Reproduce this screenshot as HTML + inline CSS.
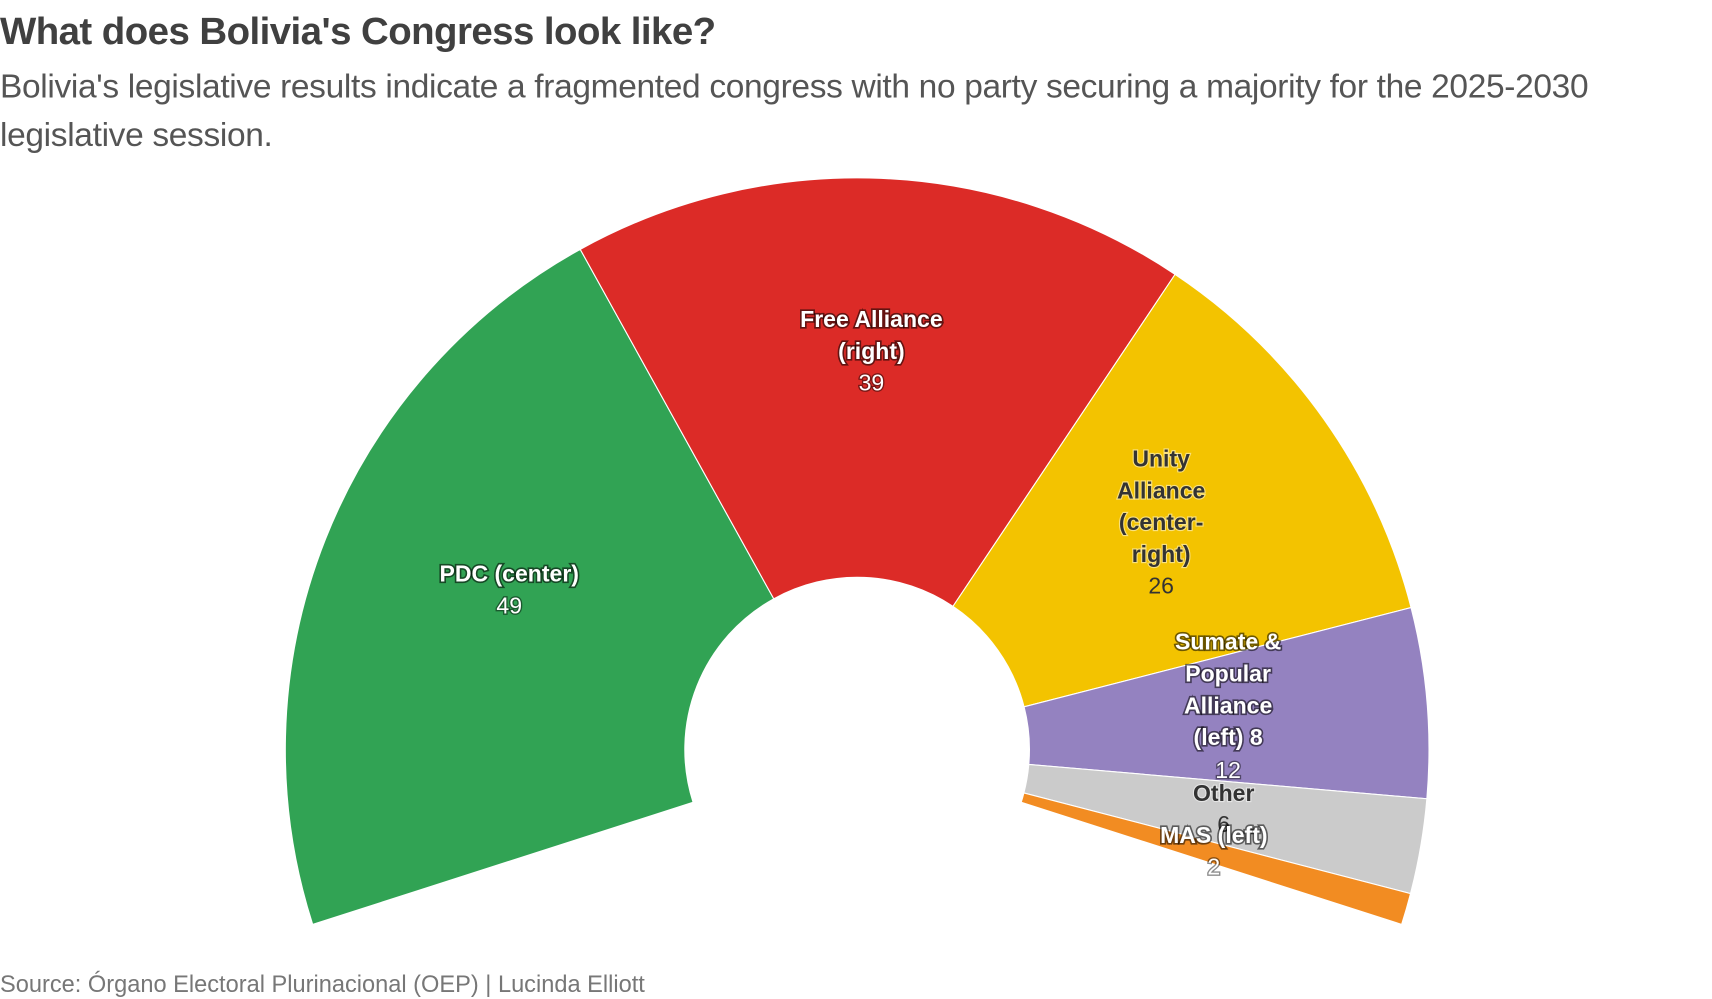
<!DOCTYPE html>
<html><head><meta charset="utf-8"><style>
body{margin:0;background:#fff;width:1712px;height:996px;overflow:hidden;font-family:"Liberation Sans",sans-serif;}
#w{position:absolute;left:0;top:0;width:1560px;height:908px;transform:scale(1.0975);transform-origin:0 0}
.t{position:absolute;left:0;top:9px;font-size:35px;font-weight:bold;color:#404040;letter-spacing:-0.5px}
.s{position:absolute;left:0;top:57px;font-size:30.5px;color:#555;line-height:44px;width:1500px;letter-spacing:-0.3px}
.src{position:absolute;left:0;top:885px;font-size:21.5px;color:#777}
svg{position:absolute;left:0;top:0}
.w{fill:#fff;font-weight:bold;font-size:21px;paint-order:stroke;stroke:rgba(0,0,0,0.55);stroke-width:3px}
.wn{fill:#fff;font-size:21px;paint-order:stroke;stroke:rgba(0,0,0,0.45);stroke-width:2.5px}
.d{fill:#333;font-weight:bold;font-size:21px;paint-order:stroke;stroke:rgba(255,255,255,0.5);stroke-width:2px}
.dn{fill:#333;font-size:21px}
</style></head><body>
<div id="w">
<div class="t">What does Bolivia's Congress look like?</div>
<div class="s">Bolivia's legislative results indicate a fragmented congress with no party securing a majority for the 2025-2030 legislative session.</div>
<svg id="c" width="1560" height="908" xmlns="http://www.w3.org/2000/svg"></svg>
<div class="src">Source: Órgano Electoral Plurinacional (OEP) | Lucinda Elliott</div>
</div>
<script>
var cx=781,cy=683,R=521,r=157;
var segs=[[49,"#31a354"],[39,"#dc2b27"],[26,"#f3c300"],[12,"#9482c0"],[6,"#cbcbcb"],[2,"#f28c22"]];
var start=197.8,per=215.6/134,a=start,s="";
function p(rad,ang){var t=ang*Math.PI/180;return (cx+rad*Math.cos(t)).toFixed(1)+","+(cy-rad*Math.sin(t)).toFixed(1);}
segs.forEach(function(g){var b=a-g[0]*per;var lg=(a-b)>180?1:0;
s+='<path d="M'+p(R,a)+' A'+R+','+R+' 0 '+lg+' 1 '+p(R,b)+' L'+p(r,b)+' A'+r+','+r+' 0 '+lg+' 0 '+p(r,a)+' Z" fill="'+g[1]+'" stroke="#fff" stroke-width="1"/>';a=b;});
function tx(x,y,c,txt){return '<text x="'+x+'" y="'+y+'" class="'+c+'" text-anchor="middle">'+txt+'</text>';}
s+=tx(464,530,"w","PDC (center)")+tx(464,559,"wn","49");
s+=tx(794,298,"w","Free Alliance")+tx(794,327,"w","(right)")+tx(794,356,"wn","39");
s+=tx(1058,425,"d","Unity")+tx(1058,454,"d","Alliance")+tx(1058,483,"d","(center-")+tx(1058,512,"d","right)")+tx(1058,541,"dn","26");
s+=tx(1119,592,"w","Sumate &amp;")+tx(1119,621,"w","Popular")+tx(1119,650,"w","Alliance")+tx(1119,679,"w","(left) 8")+tx(1119,709,"wn","12");
s+=tx(1115,730,"d","Other")+tx(1115,758,"dn","6");
s+=tx(1106,768,"w","MAS (left)")+tx(1106,797,"wn","2");
document.getElementById("c").innerHTML=s;
</script>
</body></html>
